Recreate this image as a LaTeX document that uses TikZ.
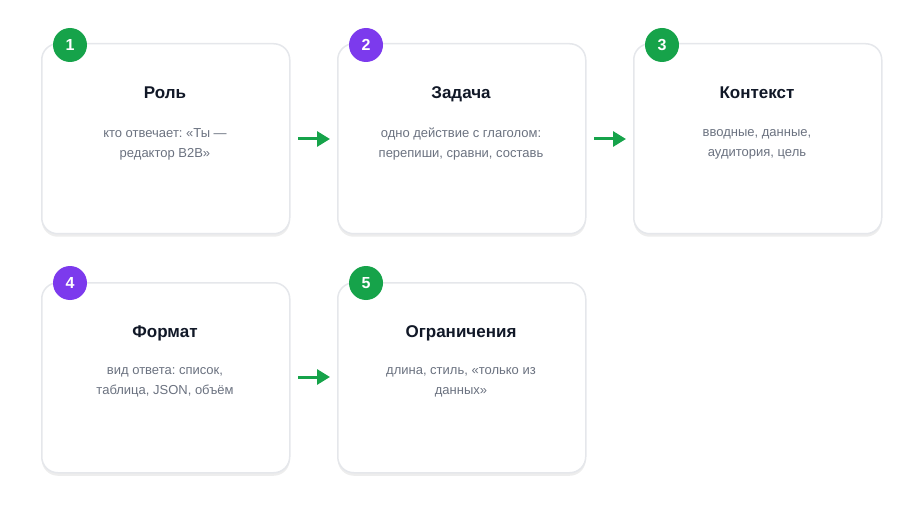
\documentclass[tikz,border=0pt]{standalone}
\usepackage{fontspec}
\setmainfont{Liberation Sans}
\frenchspacing
\usetikzlibrary{arrows.meta,shadows}

\definecolor{stepgreen}{HTML}{16A34A}
\definecolor{steppurple}{HTML}{7C3AED}
\definecolor{cardline}{HTML}{E5E7EB}
\definecolor{titleink}{HTML}{111827}
\definecolor{bodyink}{HTML}{6B7280}

\tikzset{
  card/.style={draw=cardline, line width=1.5pt, fill=white, rounded corners=16pt,
               minimum width=248pt, minimum height=190pt, anchor=north west,
               drop shadow={shadow xshift=0pt, shadow yshift=-3pt, opacity=0.07, fill=black}},
  badge/.style={circle, fill=#1, minimum size=34pt, inner sep=0pt,
                text=white, font=\fontsize{16}{16}\selectfont\bfseries},
  cardtitle/.style={anchor=base, text=titleink, font=\fontsize{17}{20}\selectfont\bfseries},
  cardbody/.style={text=bodyink, align=center, font=\fontsize{13}{20}\selectfont},
  flow/.style={stepgreen, line width=3pt, -{Triangle[length=13pt,width=15pt]},
               shorten <=9pt, shorten >=7pt}
}

\begin{document}
\begin{tikzpicture}[x=1pt, y=-1pt]
\useasboundingbox (0,0) rectangle (922,516);

\begin{scope}
    \node[card] (c1) at (41,43) {};
    \node[card] (c2) at (337,43) {};
    \node[card] (c3) at (633,43) {};
    \node[card] (c4) at (41,282) {};
    \node[card] (c5) at (337,282) {};
\end{scope}

\node[badge=stepgreen]  (b1) at (70,45)  {1};
\node[badge=steppurple] (b2) at (366,45) {2};
\node[badge=stepgreen]  (b3) at (662,45) {3};
\node[badge=steppurple] (b4) at (70,283) {4};
\node[badge=stepgreen]  (b5) at (366,283) {5};

\node[cardtitle] (t1) at (165,99) {Роль};
\node[cardtitle] (t2) at (461,99) {Задача};
\node[cardtitle] (t3) at (757,99) {Контекст};
\node[cardtitle] (t4) at (165,337) {Формат};
\node[cardtitle] (t5) at (461,337) {Ограничения};

\node[cardbody] (d1) at (165,144) {кто отвечает: «Ты —\\редактор B2B»};
\node[cardbody] (d2) at (461,144) {одно действие с глаголом:\\перепиши, сравни, составь};
\node[cardbody] (d3) at (757,144) {вводные, данные,\\аудитория, цель};
\node[cardbody] (d4) at (165,382) {вид ответа: список,\\таблица, JSON, объём};
\node[cardbody] (d5) at (461,382) {длина, стиль, «только из\\данных»};

\coordinate (a1) at (289,139);
\coordinate (a2) at (337,139);
\coordinate (a3) at (585,139);
\coordinate (a4) at (633,139);
\coordinate (a5) at (289,377);
\coordinate (a6) at (337,377);
\draw[flow] (a1) -- (a2);
\draw[flow] (a3) -- (a4);
\draw[flow] (a5) -- (a6);
\end{tikzpicture}
\end{document}
